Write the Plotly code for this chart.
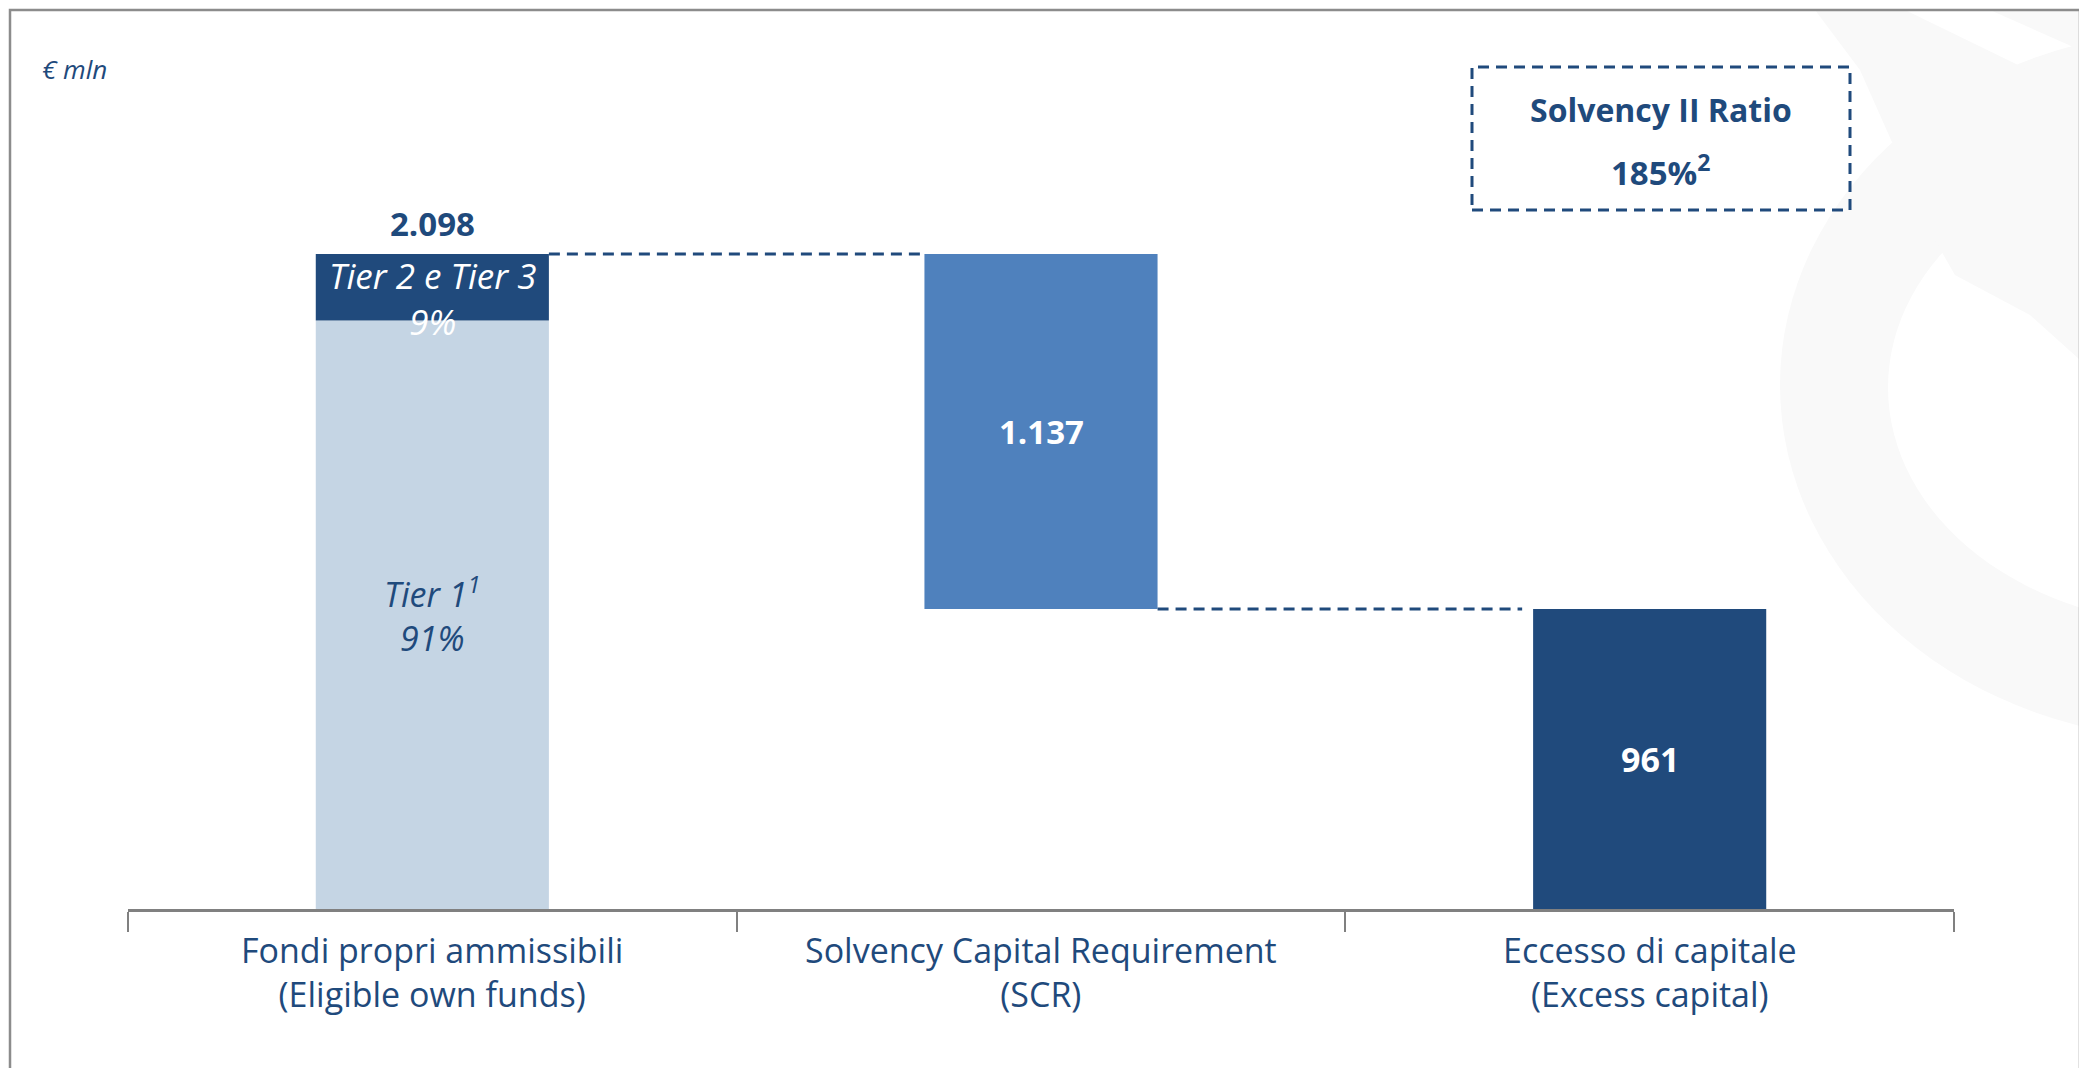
import plotly.graph_objects as go

# ---------------- data ----------------
categories = ["Fondi propri ammissibili<br>(Eligible own funds)",
              "Solvency Capital Requirement<br>(SCR)",
              "Eccesso di capitale<br>(Excess capital)"]
tier1_value = 1885
tier2_value = 213
own_funds_total = 2098
scr_value = 1137
excess_value = 961
total_label = "2.098"
scr_label = "1.137"
excess_label = "961"
tier1_text = ["Tier 1<sup>1</sup>", "91%"]
tier2_text = ["Tier 2 e Tier 3", "9%"]
ratio_title = "Solvency II Ratio"
ratio_value = "185%<sup>2</sup>"
unit_label = "€ mln"

# ---------------- style ----------------
OFF = 8                      # default page margin of the html body
W, H = 2087 - OFF, 1068 - OFF
L = 128 - OFF
R = W - (1954 - OFF)
T = 40 - OFF
B = H - (909 - OFF)
PW, PH = W - L - R, H - T - B
FONT = "Open Sans"
DARK = "#204A7C"
MID = "#4F81BD"
LIGHT = "#C5D5E4"
TXT = "#1F4A7C"
WM = "#F9F9F9"
BW = 0.383
YTOP = own_funds_total * PH / (909 - 254)
DASH = "11px,7px"


def px_x(p):  # page pixel -> paper x
    return (p - OFF - L) / PW


def px_y(p):  # page pixel -> paper y
    return (H - B - (p - OFF)) / PH


fig = go.Figure()
fig.add_trace(go.Bar(x=[categories[0]], y=[tier1_value], base=[0], width=BW,
                     marker=dict(color=LIGHT, line=dict(width=0)), hoverinfo="skip"))
fig.add_trace(go.Bar(x=[categories[0]], y=[tier2_value], base=[tier1_value], width=BW,
                     marker=dict(color=DARK, line=dict(width=0)), hoverinfo="skip"))
fig.add_trace(go.Bar(x=[categories[1]], y=[scr_value], base=[excess_value], width=BW,
                     marker=dict(color=MID, line=dict(width=0)), hoverinfo="skip"))
fig.add_trace(go.Bar(x=[categories[2]], y=[excess_value], base=[0], width=BW,
                     marker=dict(color=DARK, line=dict(width=0)), hoverinfo="skip"))


def poly(points):
    return "M " + " L ".join(f"{px_x(a):.4f},{px_y(b):.4f}" for a, b in points) + " Z"


shapes = []
# watermark (very light ring + top shapes)
shapes.append(dict(type="circle", xref="paper", yref="paper", layer="below",
                   x0=px_x(1780), x1=px_x(2612), y0=px_y(740), y1=px_y(30),
                   fillcolor=WM, line=dict(width=0)))
shapes.append(dict(type="circle", xref="paper", yref="paper", layer="below",
                   x0=px_x(1888), x1=px_x(2504), y0=px_y(625), y1=px_y(150),
                   fillcolor="white", line=dict(width=0)))
shapes.append(dict(type="path", xref="paper", yref="paper", layer="below",
                   path=poly([(1815, 10), (1905, 10), (2080, 95), (2080, 360), (2030, 315),
                              (1955, 275), (1935, 240), (1900, 160), (1860, 70)]),
                   fillcolor=WM, line=dict(width=0)))
shapes.append(dict(type="path", xref="paper", yref="paper", layer="below",
                   path=poly([(1990, 10), (2080, 10), (2080, 50)]),
                   fillcolor=WM, line=dict(width=0)))
# outer frame
shapes.append(dict(type="rect", xref="paper", yref="paper",
                   x0=px_x(10), x1=px_x(2080), y0=-0.4, y1=px_y(10),
                   line=dict(color="#8C8C8C", width=2.5), fillcolor="rgba(0,0,0,0)"))
# connectors
shapes.append(dict(type="line", xref="x", yref="y",
                   x0=0 + BW / 2, x1=1 - BW / 2, y0=own_funds_total, y1=own_funds_total,
                   line=dict(color=DARK, width=3, dash=DASH)))
shapes.append(dict(type="line", xref="x", yref="y",
                   x0=1 + BW / 2, x1=2 - BW / 2 - 0.018, y0=excess_value, y1=excess_value,
                   line=dict(color=DARK, width=3, dash=DASH)))
# solvency ratio box
shapes.append(dict(type="rect", xref="paper", yref="paper",
                   x0=px_x(1472), x1=px_x(1850), y0=px_y(210), y1=px_y(67),
                   line=dict(color=DARK, width=3, dash=DASH), fillcolor="rgba(0,0,0,0)"))

ann = []
ann.append(dict(x=px_x(40), y=px_y(69), xref="paper", yref="paper", xanchor="left", yanchor="middle",
                text=f"<i>{unit_label}</i>", showarrow=False, font=dict(family=FONT, size=26, color=TXT)))
ann.append(dict(x=0, y=own_funds_total, xref="x", yref="y", xanchor="center", yanchor="bottom", yshift=6,
                text=f"<b>{total_label}</b>", showarrow=False, font=dict(family=FONT, size=33, color=TXT)))
ann.append(dict(x=0, y=own_funds_total, xref="x", yref="y", xanchor="center", yanchor="middle",
                yshift=-(298 - 254),
                text=f"<i>{tier2_text[0]}<br>{tier2_text[1]}</i>", showarrow=False,
                font=dict(family=FONT, size=35, color="white")))
ann.append(dict(x=0, y=tier1_value / 2, xref="x", yref="y", xanchor="center", yanchor="middle", yshift=0,
                text=f"<i>{tier1_text[0]}<br>{tier1_text[1]}</i>", showarrow=False,
                font=dict(family=FONT, size=34, color=TXT)))
ann.append(dict(x=1, y=excess_value + scr_value / 2, xref="x", yref="y", xanchor="center", yanchor="middle",
                text=f"<b>{scr_label}</b>", showarrow=False, font=dict(family=FONT, size=33, color="white")))
ann.append(dict(x=2, y=excess_value / 2, xref="x", yref="y", xanchor="center", yanchor="middle",
                text=f"<b>{excess_label}</b>", showarrow=False, font=dict(family=FONT, size=34, color="white")))
ann.append(dict(x=px_x(1661), y=px_y(110), xref="paper", yref="paper", xanchor="center", yanchor="middle",
                text=f"<b>{ratio_title}</b>", showarrow=False, font=dict(family=FONT, size=32, color=TXT)))
ann.append(dict(x=px_x(1661), y=px_y(170), xref="paper", yref="paper", xanchor="center", yanchor="middle",
                text=f"<b>{ratio_value}</b>", showarrow=False, font=dict(family=FONT, size=33, color=TXT)))
# category labels (two lines each)
for i, cat in enumerate(categories):
    ann.append(dict(x=i, y=px_y(972), xref="x", yref="paper", xanchor="center", yanchor="middle",
                    text=cat, showarrow=False, font=dict(family=FONT, size=34, color=TXT)))

fig.update_layout(
    width=W, height=H,
    margin=dict(l=L, r=R, t=T, b=B),
    paper_bgcolor="white", plot_bgcolor="rgba(0,0,0,0)",
    barmode="overlay", showlegend=False,
    shapes=shapes, annotations=ann,
    font=dict(family=FONT, color=TXT),
    xaxis=dict(type="category", categoryorder="array", categoryarray=categories,
               range=[-0.5, 2.5], showgrid=False, zeroline=False,
               showline=True, linecolor="#808080", linewidth=3,
               ticks="outside", tickson="boundaries", ticklen=20, tickwidth=1.5, tickcolor="#808080",
               showticklabels=False),
    yaxis=dict(range=[0, YTOP], visible=False, showgrid=False, zeroline=False),
)

fig.write_html("out.html")
